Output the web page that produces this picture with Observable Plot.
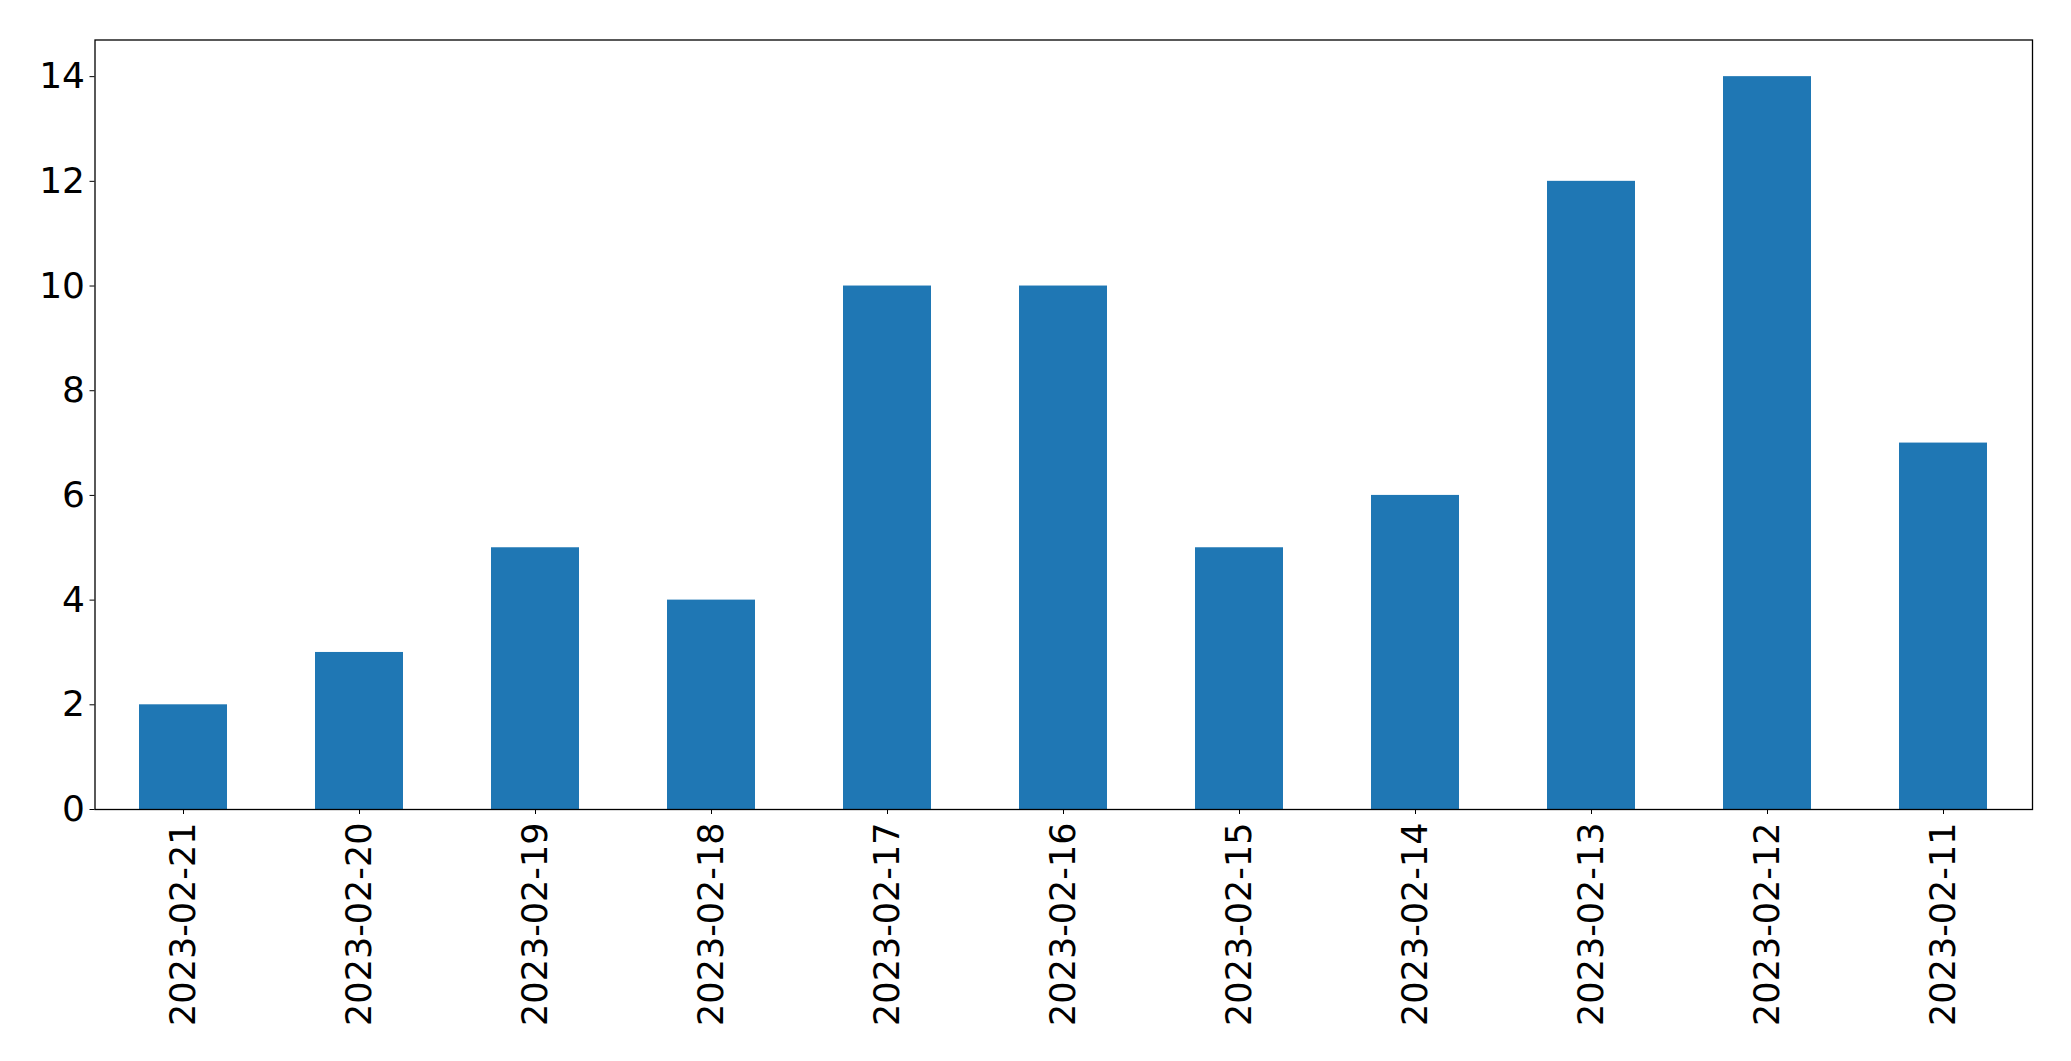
<!DOCTYPE html>
<html><head><meta charset="utf-8">
<script src="https://cdn.jsdelivr.net/npm/d3@7"></script>
<script src="https://cdn.jsdelivr.net/npm/@observablehq/plot@0.6"></script>
<style>body{margin:0;background:#fff;} svg{display:block;}</style>
</head><body><div id="chart"></div>
<script>
const dates = ["2023-02-21","2023-02-20","2023-02-19","2023-02-18","2023-02-17","2023-02-16","2023-02-15","2023-02-14","2023-02-13","2023-02-12","2023-02-11"];
const counts = [2,3,5,4,10,10,5,6,12,14,7];
const yTicks = [0,2,4,6,8,10,12,14];
const data = dates.map((d,i)=>({date:d,count:counts[i]}));
const chart = Plot.plot({
  width:2071, height:1061,
  marginLeft:94.5, marginRight:39, marginTop:39.5, marginBottom:252,
  style:{fontFamily:"DejaVu Sans", background:"#fff", color:"#000"},
  x:{type:"band", domain:dates, paddingInner:0.5, paddingOuter:0.25},
  y:{domain:[0,14.7]},
  marks:[
    Plot.barY(data,{x:"date", y:"count", fill:"#1f77b4"}),
    Plot.frame({stroke:"#000", strokeWidth:1.3}),
    Plot.axisY({ticks:yTicks, tickSize:5, tickPadding:5, fontSize:36, label:null, tickFormat:d=>String(d)}),
    Plot.axisX({tickRotate:-90, tickSize:5, tickPadding:8, fontSize:35, label:null})
  ]
});
document.getElementById("chart").appendChild(chart);
</script>
</body></html>
